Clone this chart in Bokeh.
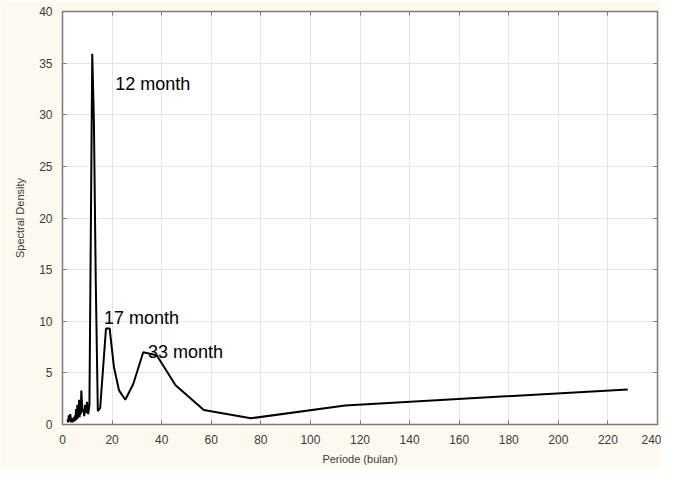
from bokeh.plotting import figure
from bokeh.models import LinearAxis, SingleIntervalTicker, Range1d
from bokeh.core.properties import value
from bokeh.embed import file_html
from bokeh.resources import INLINE

# Period (months) and spectral density
period = [228, 114, 76, 57, 45.6, 38, 32.57, 28.5, 25.33, 22.8, 20.73, 19, 17.54,
          16.29, 15.2, 14.25, 13.41, 12.67, 12, 11.4, 10.86, 10.36, 9.91, 9.5, 9.12,
          8.77, 8.44, 8.14, 7.86, 7.6, 7.35, 7.13, 6.91, 6.71, 6.51, 6.33, 6.16, 6.0,
          5.85, 5.7, 5.56, 5.43, 5.3, 5.18, 5.07, 4.96, 4.85, 4.75, 4.65, 4.56, 4.38,
          4.22, 4.07, 3.93, 3.8, 3.62, 3.45, 3.26, 3.08, 2.92, 2.78, 2.65, 2.53, 2.4,
          2.28, 2.15, 2.0]
density = [3.4, 1.85, 0.6, 1.4, 3.8, 6.7, 7.0, 3.9, 2.4, 3.3, 5.6, 9.3, 9.3,
           5.2, 1.6, 1.3, 14.0, 29.4, 35.9, 18.0, 1.9, 1.0, 2.2, 1.1, 1.9,
           0.8, 1.5, 1.2, 2.0, 3.3, 1.0, 1.6, 0.7, 2.4, 0.9, 1.3, 0.6, 1.9,
           0.5, 1.2, 0.7, 1.5, 0.4, 0.9, 0.5, 0.8, 0.3, 0.6, 0.4, 0.7, 0.3,
           0.5, 0.2, 0.6, 0.3, 0.5, 0.2, 0.8, 1.0, 0.4, 0.6, 0.3, 0.9, 0.4,
           0.2, 0.5, 0.3]

ann_text = ["12 month", "17 month", "33 month"]
ann_x = [21.3, 16.7, 34.5]
ann_y = [33.0, 10.3, 7.0]

FONT = "Liberation Sans"
BG = "#fdf9ef"
FRAME = "#7a7a7a"

p = figure(width=661, height=467, output_backend="svg", toolbar_location=None,
           x_range=Range1d(0, 240), y_range=Range1d(0, 40),
           min_border_left=62, min_border_right=2, min_border_top=11,
           min_border_bottom=38)
p.border_fill_color = BG
p.background_fill_color = "white"
p.outline_line_color = FRAME
p.outline_line_width = 1.5

p.xaxis.ticker = SingleIntervalTicker(interval=20)
p.yaxis.ticker = SingleIntervalTicker(interval=5)
for ax in (p.xaxis[0], p.yaxis[0]):
    ax.major_tick_in = 4
    ax.major_tick_out = 0
    ax.minor_tick_line_color = None
    ax.axis_line_color = FRAME
    ax.major_tick_line_color = FRAME
    ax.major_label_text_font = FONT
    ax.major_label_text_font_size = "12px"
    ax.major_label_text_color = "#3a3a3a"
    ax.axis_label_text_font = FONT
    ax.axis_label_text_font_size = "11px"
    ax.axis_label_text_font_style = "normal"
    ax.axis_label_text_color = "#3a3a3a"
p.xaxis.axis_label = "Periode (bulan)"
p.yaxis.axis_label = "Spectral Density"
p.xaxis.major_label_standoff = 6
p.yaxis.major_label_standoff = 6
p.xaxis.axis_label_standoff = 6
p.yaxis.axis_label_standoff = 10

p.xgrid.grid_line_color = "#e4e4e4"
p.ygrid.grid_line_color = "#e4e4e4"
p.xgrid.ticker = SingleIntervalTicker(interval=20)
p.ygrid.ticker = SingleIntervalTicker(interval=5)

for loc, iv in (("above", 20), ("right", 5)):
    ax = LinearAxis(ticker=SingleIntervalTicker(interval=iv),
                    major_label_text_font_size="1px", major_label_text_color=None,
                    major_label_standoff=0,
                    major_tick_in=4, major_tick_out=0, minor_tick_line_color=None,
                    axis_line_color=None, major_tick_line_color=FRAME)
    p.add_layout(ax, loc)

order = sorted(range(len(period)), key=lambda i: period[i])
xs = [period[i] for i in order]
ys = [density[i] for i in order]
p.line(xs, ys, line_color="black", line_width=2)

p.text(x=ann_x, y=ann_y, text=ann_text, text_font=value(FONT),
       text_font_size="18px", text_color="black", text_baseline="alphabetic",
       text_align="left")

open("out.html", "w").write(file_html(p, INLINE))
